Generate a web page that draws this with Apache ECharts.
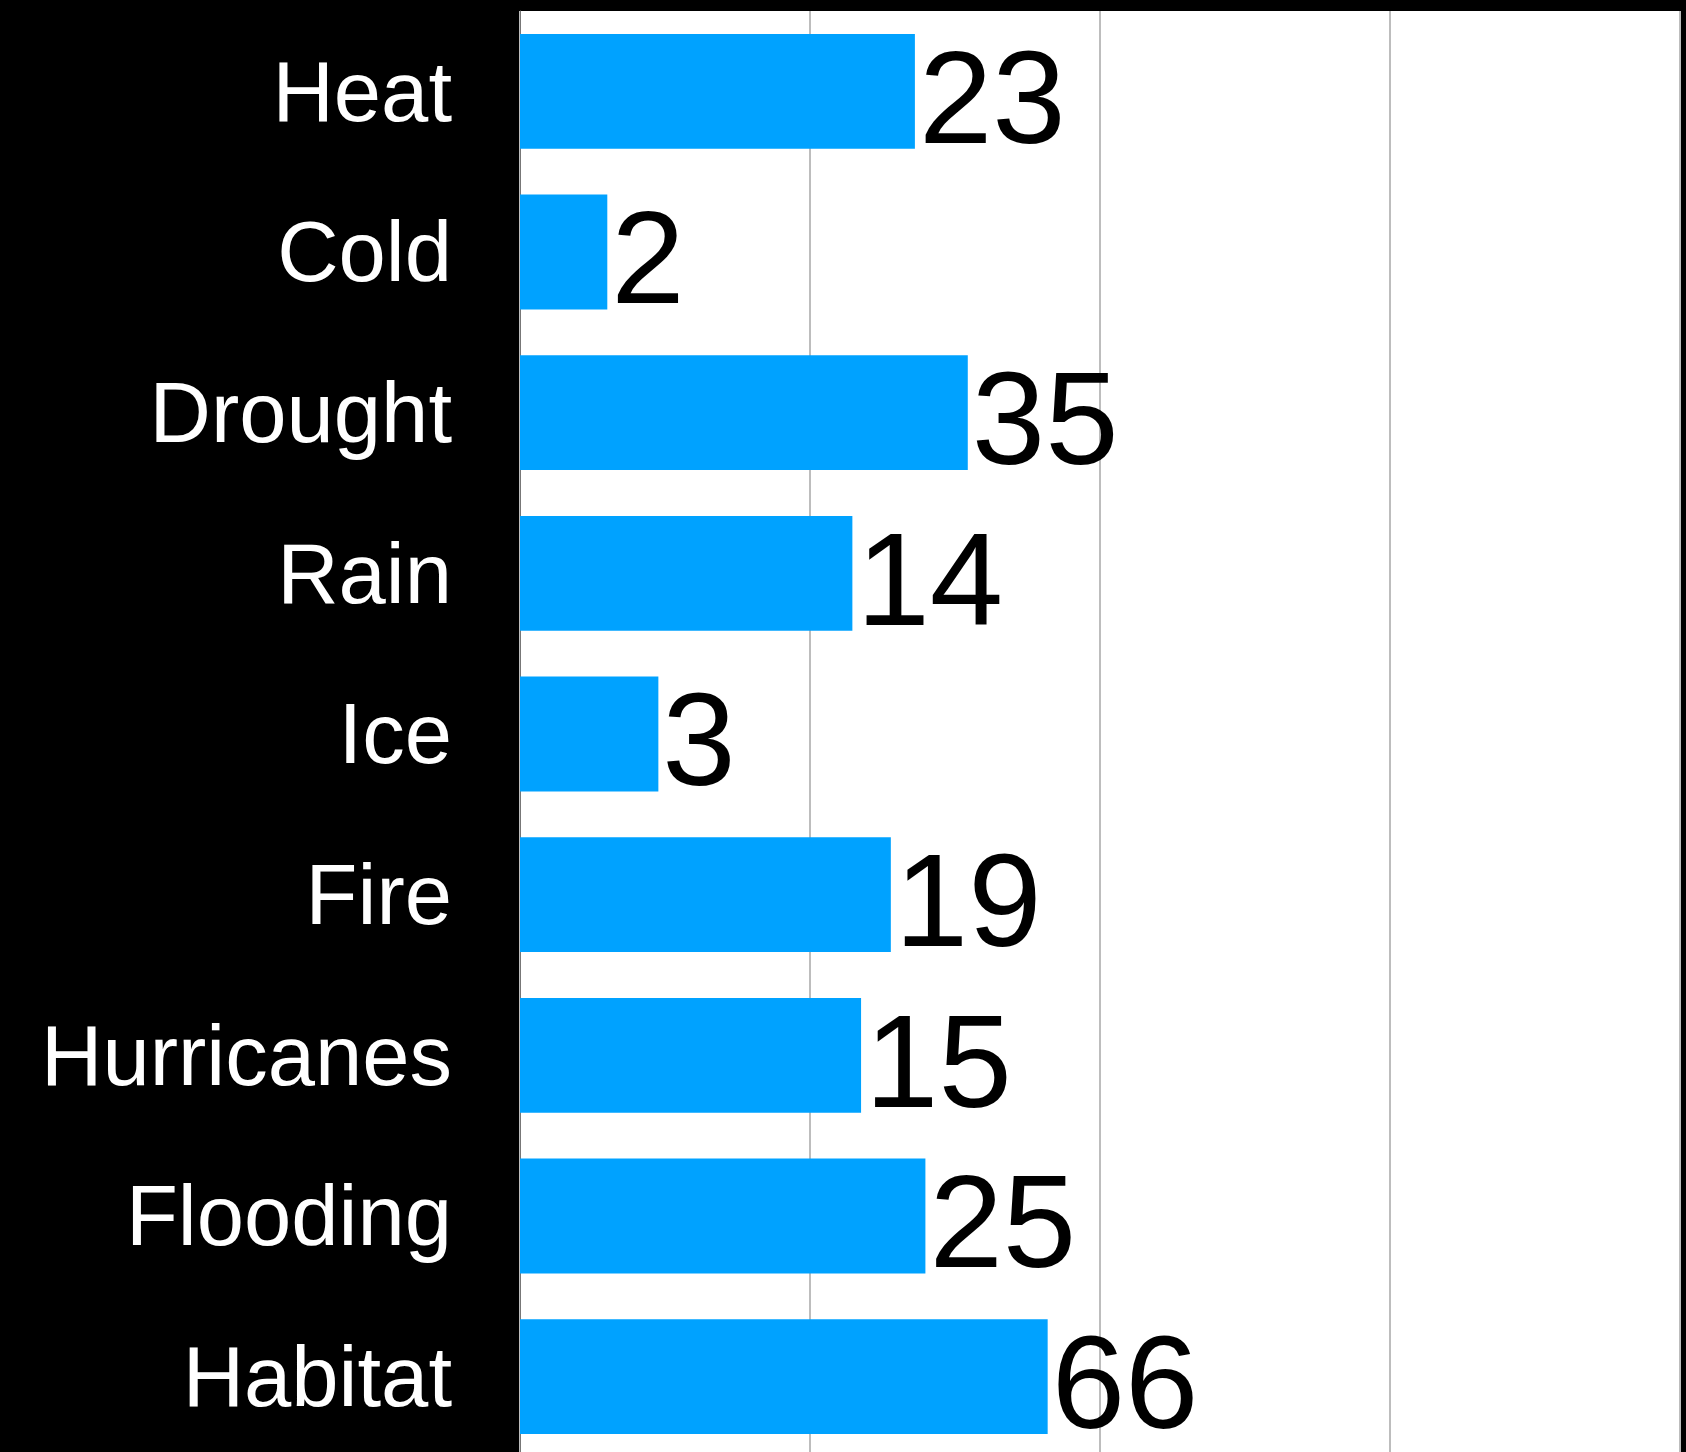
<!DOCTYPE html>
<html>
<head>
<meta charset="utf-8">
<script src="https://cdn.jsdelivr.net/npm/echarts@6/dist/echarts.min.js"></script>
<style>
  html, body { margin: 0; padding: 0; background: #000; }
  #chart { width: 1686px; height: 1452px; }
</style>
</head>
<body>
<div id="chart"></div>
<script>
// Counts per hazard category, drawn on a base-10 log scale
const categories = ['Heat', 'Cold', 'Drought', 'Rain', 'Ice', 'Fire', 'Hurricanes', 'Flooding', 'Habitat'];
const counts = [23, 2, 35, 14, 3, 19, 15, 25, 66];

const FONT = '"Liberation Sans", Helvetica, Arial, sans-serif';

const chart = echarts.init(document.getElementById('chart'), null, { renderer: 'canvas' });

chart.setOption({
  backgroundColor: '#000',
  animation: false,
  grid: {
    show: true,
    backgroundColor: '#fff',
    borderWidth: 0,
    left: 520,
    top: 11,
    width: 1160,
    height: 1446,
    containLabel: false,
    outerBoundsMode: 'none'
  },
  xAxis: {
    type: 'log',
    logBase: 10,
    min: 1,
    max: 10000,
    axisLine: { show: false },
    axisTick: { show: false },
    axisLabel: { show: false },
    splitLine: { show: true, lineStyle: { color: '#bdbdbd', width: 2 } }
  },
  yAxis: {
    type: 'category',
    data: categories,
    inverse: true,
    axisLine: { show: true, lineStyle: { color: '#777', width: 1 } },
    axisTick: { show: false },
    axisLabel: {
      margin: 68,
      formatter: name => '{c|' + name + '}',
      rich: {
        c: {
          color: '#fff',
          fontSize: 85,
          fontFamily: FONT,
          padding: [12, 0, 0, 0]
        }
      }
    }
  },
  series: [{
    type: 'bar',
    data: counts,
    barCategoryGap: '28.5%',
    itemStyle: { color: '#00a2ff' },
    label: {
      show: true,
      position: 'right',
      distance: 4,
      offset: [0, 15],
      color: '#000',
      fontSize: 132,
      fontFamily: FONT
    }
  }]
});
</script>
</body>
</html>
